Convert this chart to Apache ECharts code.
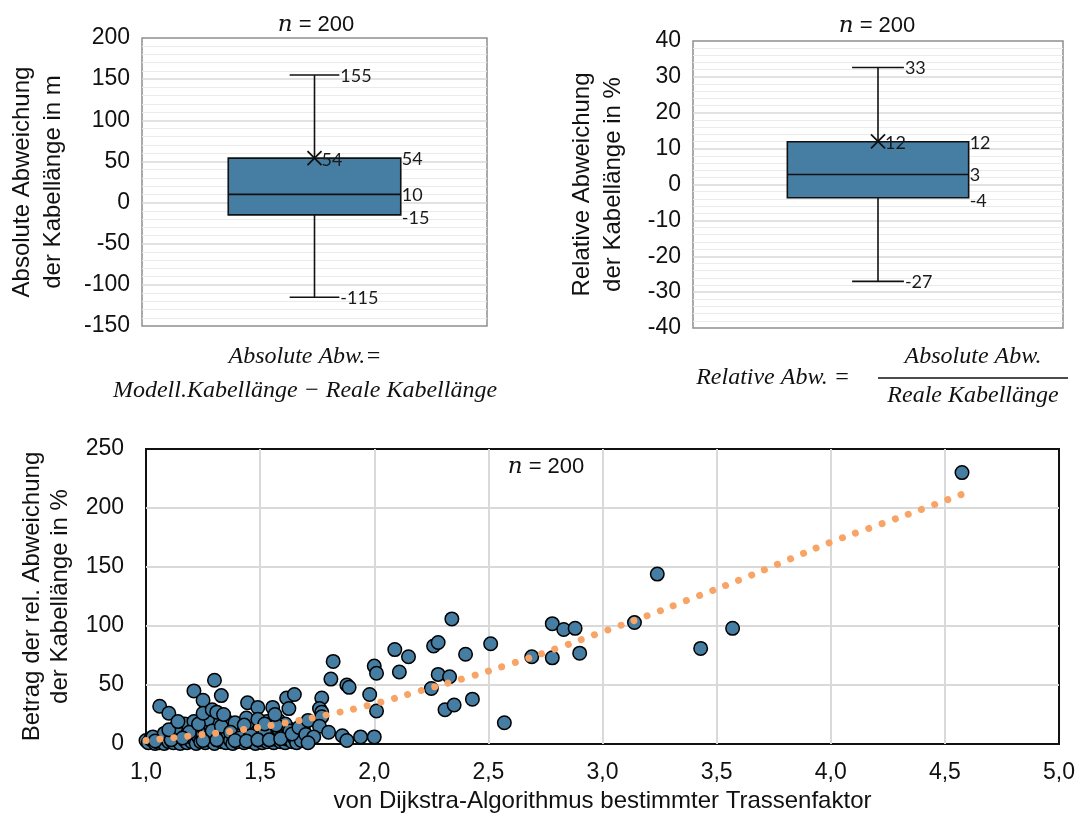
<!DOCTYPE html>
<html><head><meta charset="utf-8">
<script src="https://cdn.jsdelivr.net/npm/echarts@6/dist/echarts.min.js"></script>
<style>html,body{margin:0;padding:0;background:#fff}#c{width:1078px;height:817px}</style>
</head><body><div id="c"></div>
<script>
// ---- data ----
const absStats = [-115, -15, 10, 54, 155];   // min, Q1, median, Q3, max (m)
const absMean = 54;
const relStats = [-27, -3.7, 2.8, 11.9, 32.6]; // min, Q1, median, Q3, max (%)
const relMean = 12;
const absLabels = ['-115', '-15', '10', '54', '155'];
const relLabels = ['-27', '-4', '3', '12', '33'];
const absMeanLabel = '54';
const relMeanLabel = '12';
const nLabel = '200';

// scatter: [trassenfaktor, |rel. Abweichung| %]
const pointsHigh = [
  [4.575,230],[3.24,144],[3.14,103],[3.57,98],[3.43,81],[2.78,102],[2.83,97],[2.88,98],
  [2.90,77],[2.78,73],[2.69,74],[2.51,85],[2.34,106],[2.26,83],[2.28,86],[2.40,76],
  [2.09,80],[2.15,74],[2.11,61],[2.28,59],[2.33,57],[2.25,47],[2.43,38],[2.31,29],
  [2.35,33],[2.57,18],[2.00,66],[2.01,60],[2.01,28],[1.82,70],[1.81,55],[1.88,50],
  [1.89,48],[1.98,42],[2.00,6],[1.94,6],[1.86,7],[1.88,3],[1.77,39],[1.76,30],
  [1.77,27],[1.77,23],[1.71,20],[1.76,15],[1.80,10],[1.70,8],[1.735,6],[1.71,1]
];
const pointsMid = [
  [1.30,54],[1.21,45],[1.33,41],[1.06,32],[1.25,37],[1.10,26],[1.25,26],[1.29,29],
  [1.31,27],[1.34,25],[1.14,19],[1.445,35],[1.49,31],[1.555,31],[1.565,25],[1.616,39],
  [1.65,42],[1.626,30],[1.49,21],[1.52,17]
];
const pointsLow = [
  [1.00,3],[1.01,1],[1.02,4],[1.04,0.5],[1.05,2],[1.06,1],[1.07,3],[1.08,0.5],
  [1.09,5],[1.10,2],[1.11,8],[1.12,11],[1.12,1],[1.13,4],[1.14,6],[1.15,13],
  [1.15,0.5],[1.16,9],[1.17,3],[1.18,15],[1.18,1],[1.19,7],[1.20,12],[1.20,2],
  [1.21,4],[1.22,10],[1.22,0.5],[1.23,6],[1.24,14],[1.24,2],[1.25,8],[1.26,11],
  [1.26,1],[1.27,4],[1.28,16],[1.28,7],[1.29,2],[1.30,13],[1.30,0.5],[1.31,9],
  [1.32,5],[1.32,18],[1.33,2],[1.34,11],[1.34,6],[1.35,1],[1.36,15],[1.36,8],
  [1.37,3],[1.38,12],[1.38,0.5],[1.39,6],[1.40,10],[1.40,2],[1.41,14],[1.42,4],
  [1.42,8],[1.43,1],[1.44,12],[1.45,5],[1.45,16],[1.46,2],[1.47,9],[1.47,13],
  [1.48,0.5],[1.48,6],[1.49,11],[1.50,3],[1.50,14],[1.51,8],[1.51,1],[1.52,5],
  [1.53,12],[1.53,2],[1.54,9],[1.55,6],[1.55,15],[1.56,1],[1.56,11],[1.57,4],
  [1.58,8],[1.58,13],[1.59,2],[1.60,6],[1.60,10],[1.61,1],[1.62,4],[1.62,14],
  [1.63,8],[1.64,2],[1.65,5],[1.66,11],[1.66,1],[1.67,7],[1.68,3],[1.69,12],
  [1.17,17],[1.21,19],[1.27,21],[1.35,20],[1.39,18],[1.44,22],[1.53,19],[1.58,20],
  [1.61,17],[1.43,16],[1.03,6],[1.08,9],[1.13,14],[1.19,10],[1.23,17],[1.29,11],
  [1.33,15],[1.37,10],[1.41,5],[1.46,7],[1.52,10],[1.57,16],[1.63,11],[1.04,2.5],
  [1.11,3.5],[1.16,5],[1.25,3],[1.31,3.5],[1.39,3],[1.44,2.5],[1.49,3.5],[1.54,3.5],
  [1.59,4.5],[1.64,8.5],[1.67,14],[1.10,12]
];
const trendLine = [
  [1.0,3],[1.2,7],[1.4,11.5],[1.6,17.5],[1.8,25],[2.0,34],[2.2,45],[2.4,56],[2.6,68],
  [2.8,81],[3.0,95],[3.2,109],[3.4,124],[3.6,139],[3.8,155],[4.0,171],[4.2,185],
  [4.4,199],[4.58,212]
];

// ---- styling ----
const BLUE = '#467ea3';
const ORANGE = '#f8a467';
const TXT = '#111';
const SANS = 'Liberation Sans, Arial, sans-serif';
const LABF = 'Lato, sans-serif';
const MATH = 'italic 24px Liberation Serif';

function boxRender(stats, mean, labels, meanLabel, boxFrac, capFrac) {
  return function (params, api) {
    const cx = api.coord([0, 0])[0];
    const band = api.size([1, 0])[0];
    const y = v => api.coord([0, v])[1];
    const bw = band * boxFrac / 2, cw = band * capFrac / 2;
    const [mn, q1, md, q3, mx] = stats;
    const ln = (x1, y1, x2, y2, w) => ({type: 'line', shape: {x1, y1, x2, y2}, style: {stroke: '#111', lineWidth: w || 1.6}});
    const tx = (x, yy, t) => ({type: 'text', x, y: yy + 1, style: {text: t, fill: '#1a1a1a', font: '18px ' + LABF, align: 'left', verticalAlign: 'middle'}});
    const ym = y(mean);
    return {type: 'group', children: [
      ln(cx, y(q3), cx, y(mx)), ln(cx, y(q1), cx, y(mn)),
      ln(cx - cw, y(mx), cx + cw, y(mx)), ln(cx - cw, y(mn), cx + cw, y(mn)),
      {type: 'rect', shape: {x: cx - bw, y: y(q3), width: 2 * bw, height: y(q1) - y(q3)},
       style: {fill: BLUE, stroke: '#111', lineWidth: 1.6}},
      ln(cx - bw, y(md), cx + bw, y(md)),
      ln(cx - 7, ym - 7, cx + 7, ym + 7, 1.8), ln(cx - 7, ym + 7, cx + 7, ym - 7, 1.8),
      tx(cx + cw + 1, y(mx), labels[4]), tx(cx + cw + 1, y(mn), labels[0]),
      tx(cx + bw + 1, y(q3), labels[3]), tx(cx + bw + 1, y(md), labels[2]),
      tx(cx + bw + 1, y(q1) + 2, labels[1]),
      tx(cx + 7, ym + 1, meanLabel)
    ]};
  };
}

const topY = (min, max, interval, name, gap) => ({
  type: 'value', min, max, interval,
  axisLine: {show: false}, axisTick: {show: false},
  axisLabel: {color: TXT, fontSize: 23, fontFamily: SANS, margin: 12},
  splitLine: {show: true, showMinLine: false, showMaxLine: false, lineStyle: {color: '#d9d9d9', width: 1.5}},
  minorTick: {show: false, splitNumber: 5},
  minorSplitLine: {show: true, lineStyle: {color: '#ebebeb', width: 1}},
  name, nameLocation: 'middle', nameGap: gap,
  nameTextStyle: {color: TXT, fontSize: 24, fontFamily: SANS, lineHeight: 31}
});
const topX = gi => ({type: 'category', gridIndex: gi, data: ['A'],
  axisLine: {show: false}, axisTick: {show: false}, axisLabel: {show: false}, splitLine: {show: false}});

const nTitle = (x, y, z) => ({type: 'text', x, y, z: z || 1, style: {
  text: '{i|n} = ' + nLabel,
  rich: {i: {fontFamily: 'DejaVu Serif', fontStyle: 'italic', fontSize: 23, fill: TXT}},
  font: '22px ' + SANS, fill: TXT, align: 'center', verticalAlign: 'middle'}});
const mathText = (x, y, t) => ({type: 'text', x, y, style: {text: t, font: MATH, fill: TXT, align: 'center', verticalAlign: 'middle'}});

const chart = echarts.init(document.getElementById('c'), null, {renderer: 'canvas'});
chart.setOption({
  animation: false,
  backgroundColor: '#fff',
  grid: [
    {left: 142, right: 591, top: 38, bottom: 491, show: true, borderColor: '#8f8f8f', borderWidth: 1.5, backgroundColor: '#fff'},
    {left: 693, right: 15, top: 41, bottom: 489, show: true, borderColor: '#8f8f8f', borderWidth: 1.5, backgroundColor: '#fff'},
    {left: 146, right: 16, top: 449, bottom: 73, show: true, borderColor: '#111', borderWidth: 2}
  ],
  xAxis: [
    topX(0), topX(1),
    {type: 'value', gridIndex: 2, min: 1, max: 5, interval: 0.5,
     axisLine: {show: false}, axisTick: {show: false},
     axisLabel: {color: TXT, fontSize: 23, fontFamily: SANS, margin: 17,
                 formatter: v => v.toFixed(1).replace('.', ',')},
     splitLine: {show: true, showMinLine: false, showMaxLine: false, lineStyle: {color: '#d9d9d9', width: 2}},
     name: 'von Dijkstra-Algorithmus bestimmter Trassenfaktor', nameLocation: 'middle', nameGap: 45,
     nameTextStyle: {color: TXT, fontSize: 24, fontFamily: SANS}}
  ],
  yAxis: [
    Object.assign(topY(-150, 200, 50, 'Absolute Abweichung\nder Kabellänge in m', 73), {gridIndex: 0}),
    Object.assign(topY(-40, 40, 10, 'Relative Abweichung\nder Kabellänge in %', 64), {gridIndex: 1}),
    {type: 'value', gridIndex: 2, min: 0, max: 250, interval: 50,
     axisLine: {show: false}, axisTick: {show: false},
     axisLabel: {color: TXT, fontSize: 23, fontFamily: SANS, margin: 22},
     splitLine: {show: true, showMinLine: false, showMaxLine: false, lineStyle: {color: '#d9d9d9', width: 2}},
     name: 'Betrag der rel. Abweichung\nder Kabellänge in %', nameLocation: 'middle', nameGap: 69,
     nameTextStyle: {color: TXT, fontSize: 24, fontFamily: SANS, lineHeight: 28}}
  ],
  series: [
    {type: 'custom', xAxisIndex: 0, yAxisIndex: 0, data: [[0].concat(absStats)],
     encode: {x: 0, y: [1, 2, 3, 4, 5]},
     renderItem: boxRender(absStats, absMean, absLabels, absMeanLabel, 0.5, 0.144), silent: true},
    {type: 'custom', xAxisIndex: 1, yAxisIndex: 1, data: [[0].concat(relStats)],
     encode: {x: 0, y: [1, 2, 3, 4, 5]},
     renderItem: boxRender(relStats, relMean, relLabels, relMeanLabel, 0.49, 0.14), silent: true},
    {type: 'scatter', xAxisIndex: 2, yAxisIndex: 2, symbol: 'circle', symbolSize: 13.5,
     data: pointsLow.concat(pointsMid, pointsHigh),
     itemStyle: {color: BLUE, borderColor: '#000', borderWidth: 1.5, opacity: 1}, z: 2},
    {type: 'line', xAxisIndex: 2, yAxisIndex: 2, data: trendLine, smooth: true, showSymbol: false,
     lineStyle: {color: ORANGE, width: 7, type: [0.01, 14], cap: 'round'}, z: 3}
  ],
  graphic: [
    nTitle(316, 25), nTitle(877, 26), nTitle(546, 467, 10),
    mathText(305, 357, 'Absolute Abw.='),
    mathText(305, 391, 'Modell.Kabellänge − Reale Kabellänge'),
    mathText(773, 378, 'Relative Abw. ='),
    mathText(973, 357, 'Absolute Abw.'),
    {type: 'line', shape: {x1: 878, y1: 378, x2: 1068, y2: 378}, style: {stroke: TXT, lineWidth: 1.3}},
    mathText(973, 396, 'Reale Kabellänge')
  ]
});
</script></body></html>
